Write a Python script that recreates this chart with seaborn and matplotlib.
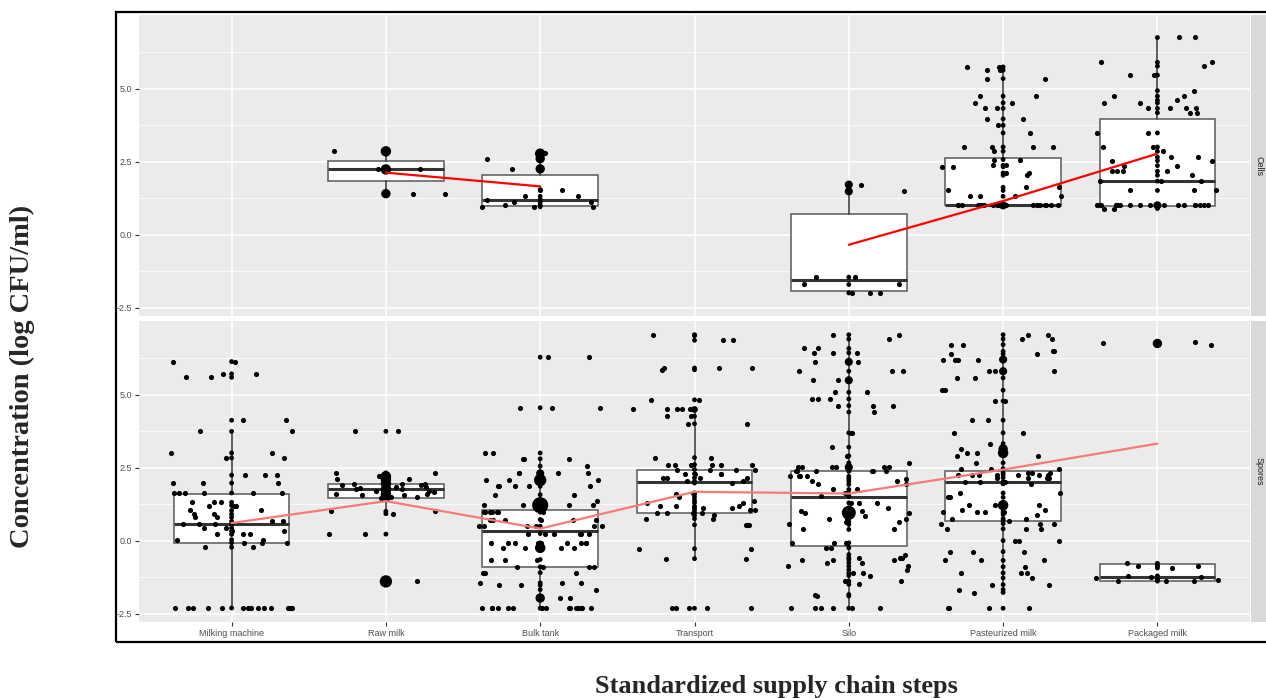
import numpy as np
import pandas as pd
import matplotlib
matplotlib.use("Agg")
import matplotlib.pyplot as plt
import seaborn as sns
from matplotlib.patches import Rectangle

# ---------------- data ----------------
steps = ["Milking machine", "Raw milk", "Bulk tank", "Transport", "Silo",
         "Pasteurized milk", "Packaged milk"]
facets = ["Cells", "Spores"]

# Cells
cells_raw_milk = [2.85, 2.23, 2.23, 1.4, 1.4]
cells_bulk_tank = [2.8, 2.77, 2.6, 2.25, 1.54, 1.54, 1.31, 1.31, 1.2, 1.1, 1.1, 1.0,
                   0.95, 0.95, 0.95]
cells_silo = [1.71, 1.48, -1.46, -1.46, -1.71, -1.71, -2.0, -2.0, -2.0]
cells_pasteurized = [5.74, 5.74, 5.74, 5.63, 5.63, 5.34, 5.34, 4.74, 4.74, 4.51, 4.51, 4.32, 4.32,
                     3.96, 3.96, 3.74, 3.48, 3.0, 3.0, 3.0, 3.0, 2.85, 2.57, 2.57, 2.37, 2.37,
                     2.32, 2.32, 2.11, 2.11, 2.03, 1.62, 1.62, 1.51, 1.31, 1.31, 1.31, 1.31,
                     1.0, 1.0, 1.0, 1.0, 1.0, 1.0, 1.0, 1.0, 1.0, 1.0, 1.0, 1.0, 1.0, 1.0,
                     1.0, 1.0, 1.0, 1.0, 1.0, 1.0, 1.0, 1.0]
cells_packaged = [6.75, 6.75, 5.9, 5.9, 5.77, 5.46, 5.46, 4.93, 4.74, 4.74, 4.6, 4.51, 4.51,
                  4.32, 4.32, 4.32, 4.32, 4.17, 4.17, 3.48, 3.48, 3.0, 3.0, 2.85, 2.65, 2.65,
                  2.53, 2.53, 2.36, 2.36, 2.17, 2.17, 2.17, 2.17, 2.03, 1.83, 1.83, 1.83,
                  1.51, 1.51, 1.51, 1.0, 1.0, 1.0, 1.0, 1.0, 1.0, 1.0, 1.0, 1.0, 1.0, 1.0,
                  1.0, 1.0, 1.0, 1.0, 1.0, 1.0, 1.0, 0.89, 0.89]

# Spores
spores_milking = [6.13, 6.13, 5.71, 5.71, 5.59, 5.59, 4.12, 4.12, 3.74, 3.74, 3.0, 3.0, 2.83,
                  2.83, 2.24, 2.24, 2.24, 1.97, 1.97, 1.97, 1.63, 1.63, 1.63, 1.63, 1.63, 1.63,
                  1.31, 1.31, 1.31, 1.2, 1.2, 1.2, 1.03, 1.03, 0.91, 0.91, 0.8, 0.8, 0.66,
                  0.66, 0.55, 0.55, 0.55, 0.43, 0.43, 0.32, 0.32, 0.21, 0.21, 0.21, 0.03,
                  0.03, -0.08, -0.08, -0.08, -0.23, -0.23,
                  -2.31, -2.31, -2.31, -2.31, -2.31, -2.31, -2.31, -2.31, -2.31, -2.31,
                  -2.31, -2.31, -2.31, -2.31]
spores_raw_milk = [3.74, 3.74, 2.32, 2.32, 2.2, 2.2, 2.1, 2.1, 1.95, 1.95, 1.95,
                   1.9, 1.9, 1.85, 1.85, 1.8, 1.8, 1.75, 1.75, 1.7, 1.7, 1.65,
                   1.6, 1.6, 1.55, 1.55, 1.5, 1.5, 1.45, 1.0, 1.0, 0.92, 0.22, 0.22, -1.4]
spores_bulk_tank = [6.28, 6.28, 4.55, 4.55, 4.55, 3.0, 3.0, 2.8, 2.8, 2.8, 2.55, 2.3, 2.3,
                    2.3, 2.3, 2.07, 2.07, 2.07, 1.86, 1.86, 1.86, 1.86, 1.86,
                    1.57, 1.57, 1.37, 1.21, 1.21, 1.21, 1.21, 1.21,
                    0.97, 0.97, 0.97, 0.97, 0.97, 0.97, 0.97, 0.72, 0.72,
                    0.72, 0.72, 0.72, 0.72, 0.49, 0.49, 0.49, 0.49, 0.49, 0.49, 0.24, 0.24,
                    0.24, 0.24, 0.24, 0.24, -0.08, -0.08, -0.08, -0.08, -0.08, -0.08, -0.08,
                    -0.08, -0.08, -0.25, -0.25, -0.25, -0.25, -0.65, -0.65,
                    -0.65, -0.9, -0.9, -0.9, -0.9, -1.1, -1.1, -1.1, -1.45, -1.45, -1.45,
                    -1.53, -1.53, -1.68, -1.97, -1.97, -1.97,
                    -2.32, -2.32, -2.32, -2.32, -2.32, -2.32, -2.32, -2.32, -2.32, -2.32,
                    -2.32, -2.32, -2.32, -2.32, -2.32]
spores_transport = [7.05, 7.05, 6.86, 6.86, 5.91, 5.91, 5.91, 5.85, 4.82, 4.82, 4.49, 4.49,
                    4.49, 4.49, 4.49, 4.26, 4.26, 4.0, 4.0, 2.84, 2.84, 2.6, 2.6, 2.6, 2.6,
                    2.6, 2.6, 2.43, 2.43, 2.43, 2.43, 2.29, 2.29, 2.29, 2.29, 2.15, 2.15,
                    2.15, 2.15, 2.03, 2.03, 1.97, 1.63, 1.58, 1.48, 1.37, 1.29, 1.29, 1.17,
                    1.17, 1.17, 1.12, 1.12, 1.04, 1.04, 0.95, 0.95, 0.95, 0.95, 0.86, 0.75,
                    0.75, 0.54, 0.54, 0.54, 0.54, -0.28, -0.28, -0.62, -0.62,
                    -2.32, -2.32, -2.32, -2.32, -2.32]
spores_silo = [7.05, 7.05, 6.9, 6.58, 6.58, 6.43, 6.43, 6.43, 6.12, 6.12, 5.8, 5.8, 5.8,
               5.49, 5.49, 5.08, 5.08, 4.85, 4.85, 4.85, 4.62, 4.62, 4.62, 4.4, 3.69, 3.69,
               3.2, 2.9, 2.66, 2.51, 2.51, 2.51, 2.51, 2.51, 2.51, 2.51, 2.37, 2.37, 2.37,
               2.37, 2.37, 2.37, 2.2, 2.2, 2.2, 2.2, 2.12, 2.03, 2.03, 1.92, 1.92, 1.75,
               1.75, 1.63, 1.52, 1.29, 1.29, 1.29, 1.12, 1.0, 1.0, 0.95, 0.95,
               0.83, 0.83, 0.75, 0.75, 0.75, 0.64, 0.64, 0.55, 0.38, 0.38, -0.08, -0.08,
               -0.08, -0.08, -0.25, -0.25, -0.48, -0.59, -0.59, -0.59, -0.65, -0.65, -0.65,
               -0.76, -0.76, -0.88, -0.88, -1.0, -1.11, -1.11, -1.2, -1.39, -1.39, -1.5,
               -1.85, -1.9, -2.32, -2.32, -2.32, -2.32, -2.32, -2.32]
spores_pasteurized = [7.05, 7.05, 6.9, 6.9, 6.71, 6.71, 6.48, 6.48, 6.39, 6.39, 6.2, 6.2, 6.2,
                      6.2, 5.8, 5.8, 5.8, 5.57, 5.57, 5.15, 5.15, 4.78, 4.78, 4.12, 4.12,
                      3.69, 3.69, 3.32, 3.14, 3.14, 3.0, 3.0, 2.91, 2.91, 2.66,
                      2.46, 2.46, 2.46, 2.32, 2.32, 2.32, 2.26, 2.26, 2.26, 2.26, 2.26, 2.26,
                      2.26, 2.15, 2.15, 2.15, 2.15, 2.01, 2.01, 2.01, 1.94, 1.63, 1.63, 1.48,
                      1.48, 1.21, 1.21, 1.21, 1.21, 1.21, 1.06, 1.06, 0.97, 0.97, 0.97,
                      0.97, 0.89, 0.75, 0.75, 0.68, 0.58, 0.58, 0.58, 0.4, 0.4, 0.4, 0.0,
                      0.0, 0.0, -0.38, -0.38, -0.38, -0.68, -0.68, -0.68, -0.9, -1.11, -1.11,
                      -1.11, -1.28, -1.51, -1.51, -1.68, -1.78, -2.32, -2.32, -2.32, -2.32]
spores_packaged = [6.75, 6.71, 6.79, -0.78, -0.86, -0.88, -0.94, -1.21, -1.26,
                   -1.26, -1.3, -1.35, -1.39, -1.39, -1.39]

# observation counts shown as larger dots on the centre line (all other values count 1)
big_facet = ["Cells", "Cells", "Cells", "Cells", "Cells", "Cells", "Cells", "Cells",
             "Cells", "Cells",
             "Spores", "Spores", "Spores", "Spores", "Spores", "Spores", "Spores",
             "Spores", "Spores", "Spores", "Spores", "Spores", "Spores", "Spores",
             "Spores", "Spores", "Spores", "Spores", "Spores", "Spores", "Spores",
             "Spores", "Spores"]
big_step = ["Raw milk", "Raw milk", "Raw milk", "Bulk tank", "Bulk tank", "Bulk tank",
            "Silo", "Silo", "Pasteurized milk", "Packaged milk",
            "Raw milk", "Raw milk", "Raw milk", "Raw milk", "Raw milk", "Raw milk",
            "Bulk tank", "Bulk tank", "Bulk tank", "Bulk tank", "Bulk tank",
            "Silo", "Silo", "Silo", "Silo",
            "Pasteurized milk", "Pasteurized milk", "Pasteurized milk",
            "Pasteurized milk", "Pasteurized milk", "Packaged milk", "Raw milk",
            "Transport"]
big_value = [2.85, 2.23, 1.4, 2.77, 2.6, 2.25, 1.71, 1.48, 1.0, 1.0,
             -1.4, 2.2, 2.1, 1.95, 1.75, 1.5,
             2.07, 1.21, -0.25, -1.97, 2.3,
             0.95, 6.12, 5.49, 2.51,
             3.0, 3.14, 1.21, 6.2, 5.8, 6.75, 1.6,
             4.49]
big_n = [5, 5, 4, 5, 4, 4, 3, 3, 3, 3,
         7, 5, 5, 5, 5, 5,
         7, 12, 5, 4, 3,
         9, 3, 3, 3,
         5, 4, 5, 3, 3, 4, 5,
         2]

# boxplot statistics
cells_box_steps = ["Raw milk", "Bulk tank", "Silo", "Pasteurized milk", "Packaged milk"]
cells_q1 = [1.82, 0.97, -1.95, 1.0, 0.97]
cells_med = [2.23, 1.2, -1.56, 1.0, 1.83]
cells_q3 = [2.53, 2.03, 0.72, 2.63, 3.96]
cells_wlo = [1.4, 0.95, -2.0, 1.0, 0.89]
cells_whi = [2.85, 2.8, 1.71, 5.74, 6.75]

spores_box_steps = steps
spores_q1 = [-0.1, 1.46, -0.9, 0.95, -0.17, 0.66, -1.39]
spores_med = [0.57, 1.75, 0.32, 2.0, 1.48, 2.0, -1.26]
spores_q3 = [1.59, 1.92, 1.06, 2.41, 2.37, 2.37, -0.8]
spores_wlo = [-2.31, 0.92, -2.32, -0.62, -2.32, -1.78, -1.39]
spores_whi = [3.74, 2.32, 2.8, 4.49, 7.05, 7.05, -0.78]

# mean lines
cells_mean_steps = ["Raw milk", "Bulk tank", "Silo", "Pasteurized milk", "Packaged milk"]
cells_mean = [2.12, 1.65, -0.35, 1.15, 2.77]
cells_mean_run = [1, 1, 2, 2, 2]
spores_mean_steps = steps
spores_mean = [0.6, 1.35, 0.41, 1.67, 1.61, 2.43, 3.32]
spores_mean_run = [1, 1, 1, 1, 1, 1, 1]

y_major = [-2.5, 0.0, 2.5, 5.0]
y_minor = [-1.25, 1.25, 3.75, 6.25]

# ---------------- assemble ----------------
raw = {
    ("Cells", "Raw milk"): cells_raw_milk,
    ("Cells", "Bulk tank"): cells_bulk_tank,
    ("Cells", "Silo"): cells_silo,
    ("Cells", "Pasteurized milk"): cells_pasteurized,
    ("Cells", "Packaged milk"): cells_packaged,
    ("Spores", "Milking machine"): spores_milking,
    ("Spores", "Raw milk"): spores_raw_milk,
    ("Spores", "Bulk tank"): spores_bulk_tank,
    ("Spores", "Transport"): spores_transport,
    ("Spores", "Silo"): spores_silo,
    ("Spores", "Pasteurized milk"): spores_pasteurized,
    ("Spores", "Packaged milk"): spores_packaged,
}
rows = []
for (f, s), vals in raw.items():
    for v in vals:
        rows.append((f, s, steps.index(s), v))
df = pd.DataFrame(rows, columns=["facet", "step", "pos", "value"])

center = df[["facet", "pos", "value"]].drop_duplicates().copy()
center["n"] = 1
big = pd.DataFrame({"facet": big_facet, "pos": [steps.index(s) for s in big_step],
                    "value": big_value, "n": big_n})
center = pd.concat([center, big]).drop_duplicates(["facet", "pos", "value"], keep="last")

box_info = {
    "Cells": (cells_box_steps, cells_q1, cells_med, cells_q3, cells_wlo, cells_whi),
    "Spores": (spores_box_steps, spores_q1, spores_med, spores_q3, spores_wlo, spores_whi),
}
mean_info = {
    "Cells": (cells_mean_steps, cells_mean, cells_mean_run, "#FF0000"),
    "Spores": (spores_mean_steps, spores_mean, spores_mean_run, "#F87A74"),
}

# ---------------- style ----------------
sns.set_theme(style="darkgrid", rc={
    "axes.facecolor": "#EBEBEB",
    "grid.color": "white",
    "axes.edgecolor": "none",
})
plt.rcParams["font.family"] = ["Liberation Sans", "DejaVu Sans"]
plt.rcParams["axes.unicode_minus"] = False

W, H = 1266, 698
fig = plt.figure(figsize=(W / 100, H / 100), dpi=100)


def fr(x0, y0, x1, y1):
    return [x0 / W, 1 - y1 / H, (x1 - x0) / W, (y1 - y0) / H]


panels = {"Cells": (15, 316), "Spores": (321, 622)}
np.random.seed(7)

for f in facets:
    y0, y1 = panels[f]
    ax = fig.add_axes(fr(139, y0, 1250, y1))
    ax.set_facecolor("#EBEBEB")
    ax.set_axisbelow(True)
    sub = df[df.facet == f]

    bs, q1, med, q3, wlo, whi = box_info[f]
    stats = [dict(q1=a, med=b, q3=c, whislo=d, whishi=e, fliers=[])
             for a, b, c, d, e in zip(q1, med, q3, wlo, whi)]
    ax.bxp(stats, positions=[steps.index(s) for s in bs], widths=0.75,
           patch_artist=True, showfliers=False, showcaps=False, manage_ticks=False,
           boxprops=dict(facecolor="white", edgecolor="#595959", linewidth=1.1),
           medianprops=dict(color="#333333", linewidth=2.2),
           whiskerprops=dict(color="#333333", linewidth=1.1), zorder=2)

    sns.stripplot(data=sub, x="pos", y="value", native_scale=True, orient="x",
                  jitter=0.4, size=3.7, color="black", linewidth=0, ax=ax, zorder=3)

    csub = center[center.facet == f]
    sns.scatterplot(data=csub, x="pos", y="value", size="n", sizes=(12, 135),
                    size_norm=(1, 12), color="black", linewidth=0, legend=False,
                    ax=ax, zorder=4)

    ms, mv, mr, mc = mean_info[f]
    mdf = pd.DataFrame({"pos": [steps.index(s) for s in ms], "mean": mv, "run": mr})
    sns.lineplot(data=mdf, x="pos", y="mean", units="run", estimator=None,
                 color=mc, linewidth=1.6, sort=False, ax=ax, zorder=5, legend=False)

    ax.set_xlim(-0.6, 6.6)
    ax.set_ylim(-2.79, 7.52)
    ax.set_yticks(y_major)
    ax.set_yticklabels([f"{v:.1f}" for v in y_major])
    ax.set_yticks(y_minor, minor=True)
    ax.set_xticks(range(len(steps)))
    ax.grid(which="major", color="white", linewidth=1.1)
    ax.grid(which="minor", axis="y", color="white", linewidth=0.55)
    ax.set_xlabel("")
    ax.set_ylabel("")
    for sp in ax.spines.values():
        sp.set_visible(False)
    ax.tick_params(axis="y", which="major", length=2.75, width=0.8, color="#333333",
                   labelsize=6.5, labelcolor="#4D4D4D", pad=2.2, left=True)
    ax.tick_params(axis="y", which="minor", length=0)
    if f == "Spores":
        ax.set_xticklabels(steps)
        ax.tick_params(axis="x", length=2.75, width=0.8, color="#333333",
                       labelsize=6.5, labelcolor="#4D4D4D", pad=2.2, bottom=True)
    else:
        ax.set_xticklabels([])
        ax.tick_params(axis="x", length=0)

    sax = fig.add_axes(fr(1251, y0, 1270, y1))
    sax.set_facecolor("#D9D9D9")
    sax.set_xticks([])
    sax.set_yticks([])
    for sp in sax.spines.values():
        sp.set_visible(False)
    sax.grid(False)
    sax.text(0.42, 0.5, f, rotation=-90, ha="center", va="center", fontsize=6.5,
             color="#1A1A1A", transform=sax.transAxes)

fig.patches.append(Rectangle((116 / W, 1 - 642 / H), (1290 - 116) / W, 630 / H,
                             transform=fig.transFigure, fill=False, edgecolor="black",
                             linewidth=1.6, zorder=10))

fig.text(22 / W, 1 - 376 / H, "Concentration (log CFU/ml)", rotation=90, ha="center",
         va="center", fontsize=20.5, fontweight="bold", family="Liberation Serif")
fig.text(776 / W, 1 - 686 / H, "Standardized supply chain steps", ha="center",
         va="center", fontsize=19, fontweight="bold", family="Liberation Serif")

fig.savefig("out.png", dpi=100)
